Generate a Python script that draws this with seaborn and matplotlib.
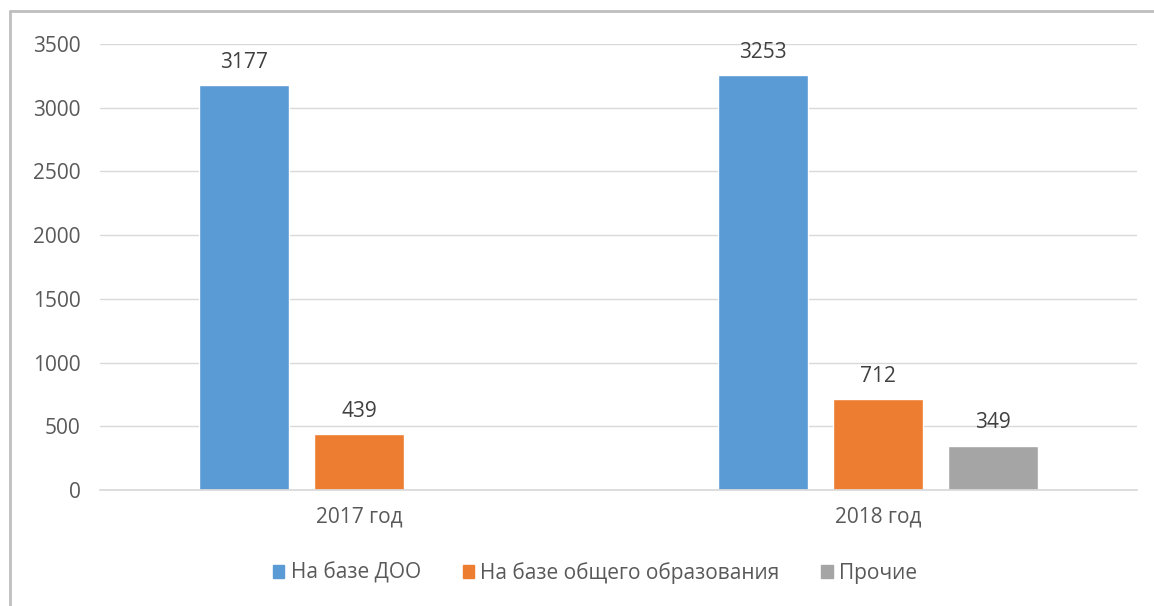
import numpy as np
import pandas as pd
import seaborn as sns
import matplotlib.pyplot as plt
from matplotlib.lines import Line2D
from matplotlib.patches import Patch

# data
years = ["2017 год", "2018 год"]
series = ["На базе ДОО", "На базе общего образования", "Прочие"]
doo = [3177, 3253]
general = [439, 712]
other = [np.nan, 349]   # no bar for 2017
colors = ["#5B9BD5", "#ED7D31", "#A5A5A5"]

df = pd.DataFrame({
    "year": years * 3,
    "type": [series[0]] * 2 + [series[1]] * 2 + [series[2]] * 2,
    "value": doo + general + other,
})

sns.set_theme(style="white")
plt.rcParams["font.family"] = ["Open Sans", "DejaVu Sans"]
txt = "#595959"
fs = 15

fig = plt.figure(figsize=(11.54, 6.06), dpi=100)
ax = fig.add_axes([100 / 1154, 1 - 490 / 606, 1037 / 1154, 446 / 606])

sns.barplot(data=df, x="year", y="value", hue="type", order=years,
            hue_order=series, palette=colors, width=0.665, gap=0.22,
            errorbar=None, saturation=1, ax=ax, legend=False)

for c in ax.containers:
    labels = ["" if np.isnan(b.get_height()) else f"{b.get_height():.0f}" for b in c]
    ax.bar_label(c, labels=labels, padding=9, fontsize=fs, color="#404040")

ax.set_ylim(0, 3500)
ax.set_yticks(range(0, 3501, 500))
ax.yaxis.grid(True, color="#D9D9D9", lw=1)
ax.set_axisbelow(True)
for s in ["top", "right", "left"]:
    ax.spines[s].set_visible(False)
ax.spines["bottom"].set_color("#D9D9D9")
ax.tick_params(axis="both", length=0, labelsize=fs, labelcolor=txt)
ax.tick_params(axis="x", pad=12)
ax.tick_params(axis="y", pad=14)
ax.set_xlabel("")
ax.set_ylabel("")

handles = [Patch(color=c, label=s) for c, s in zip(colors, series)]
fig.legend(handles=handles, loc="center", bbox_to_anchor=(595 / 1154, 1 - 573 / 606),
           ncol=3, frameon=False, fontsize=fs, labelcolor=txt,
           handlelength=0.55, handleheight=0.6, handletextpad=0.3, columnspacing=2.0)

# chart frame (top and left edges visible in the crop)
fig.add_artist(Line2D([10 / 1154, 1], [1 - 11 / 606] * 2, color="#BFBFBF", lw=2))
fig.add_artist(Line2D([10 / 1154] * 2, [0, 1 - 11 / 606], color="#BFBFBF", lw=2))

fig.savefig("out.png", dpi=100)
